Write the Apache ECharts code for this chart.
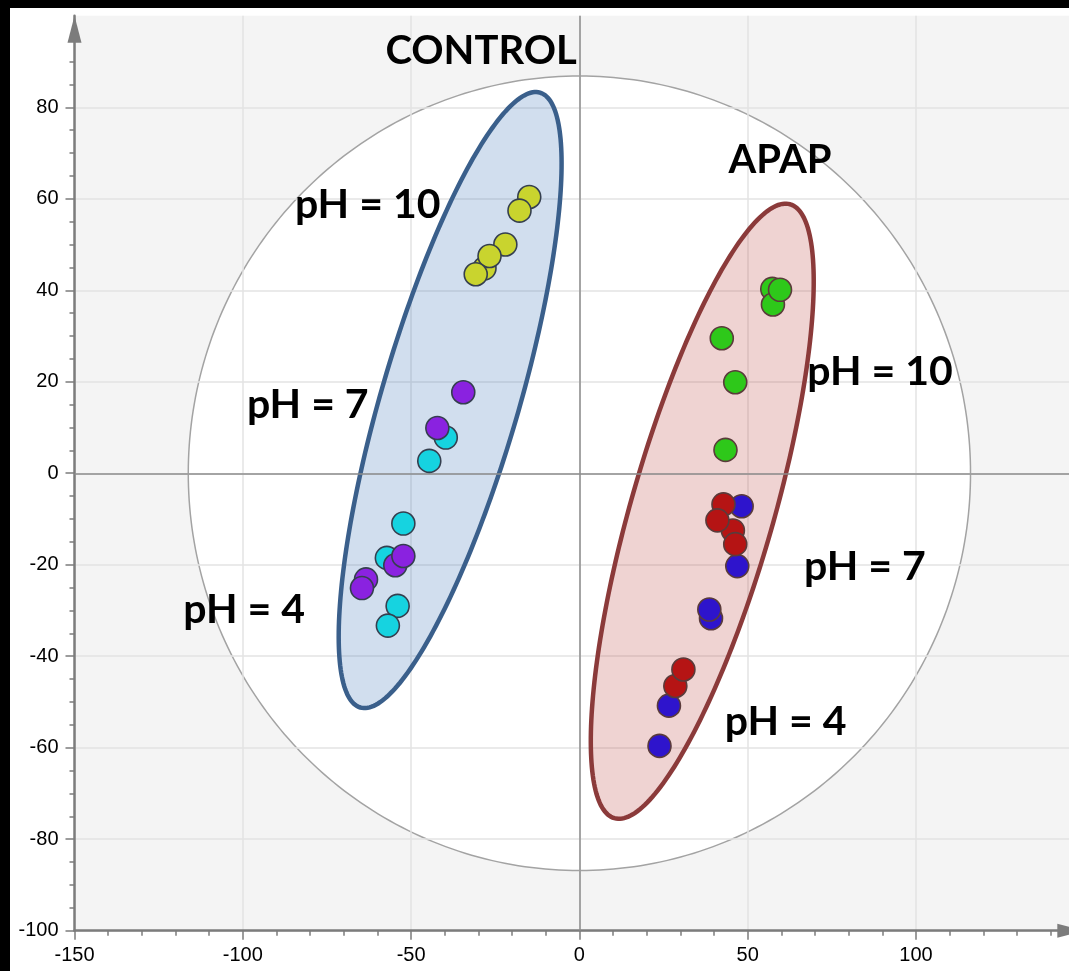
<!DOCTYPE html>
<html>
<head>
<meta charset="utf-8">
<script src="https://cdn.jsdelivr.net/npm/echarts@6/dist/echarts.min.js"></script>
<style>
  html, body { margin: 0; padding: 0; background: #000; overflow: hidden; width: 1069px; height: 971px; }
  #chart { position: absolute; left: 10px; top: 8px; width: 1100px; height: 963px; }
</style>
</head>
<body>
<div id="chart"></div>
<script>
// PCA scores [t1, t2] for each sample group
const controlPH10 = [[-28.2, 44.8], [-14.9, 60.4], [-17.8, 57.4], [-22.0, 50.0], [-26.7, 47.5], [-30.8, 43.5]];
const controlCyan = [[-39.7, 7.8], [-44.6, 2.7], [-52.3, -11.0], [-57.2, -18.5], [-54.0, -29.0], [-56.9, -33.3]];
const controlPurple = [[-34.5, 17.7], [-42.2, 9.9], [-63.4, -23.2], [-64.6, -25.1], [-54.7, -20.1], [-52.3, -18.1]];
const apapPH10 = [[57.3, 40.3], [57.5, 36.9], [59.6, 40.1], [42.3, 29.5], [46.3, 19.9], [43.4, 5.1]];
const apapBlue = [[48.2, -7.2], [46.9, -20.3], [39.1, -31.7], [38.6, -29.8], [26.6, -50.8], [23.8, -59.6]];
const apapRed = [[42.8, -6.8], [45.6, -12.5], [41.0, -10.3], [46.3, -15.5], [28.5, -46.5], [30.9, -42.9]];

// Hotelling T2 ellipse radii (t1, t2)
const t2Radii = [116.2, 86.85];

// group regions: [centre t1, centre t2, tip t1, tip t2, half width in t1 units]
const controlRegion = [-38.4, 16.0, -11.7, 83.2, 20.4];
const apapRegion = [36.5, -8.3, 62.6, 58.8, 21.2];

// annotations: [text, t1, t2]
const annotations = [
  ['CONTROL', -29.2, 92.3],
  ['APAP', 59.6, 68.5],
  ['pH = 10', -62.9, 58.6],
  ['pH = 7', -80.7, 14.9],
  ['pH = 4', -99.6, -29.9],
  ['pH = 10', 89.3, 22.1],
  ['pH = 7', 84.8, -20.5],
  ['pH = 4', 61.3, -54.4]
];

const xTicks = [-150, -100, -50, 0, 50, 100];
const yTicks = [-100, -80, -60, -40, -20, 0, 20, 40, 60, 80];

const axisGrey = '#7c7c7c';

function ellipsePoints(c, u, a, b, n) {
  const v = [-u[1], u[0]];
  const pts = [];
  for (let k = 0; k < n; k++) {
    const ang = (2 * Math.PI * k) / n;
    const ca = Math.cos(ang), sa = Math.sin(ang);
    pts.push([c[0] + a * ca * u[0] + b * sa * v[0], c[1] + a * ca * u[1] + b * sa * v[1]]);
  }
  return pts;
}

const regionStyles = [
  { fill: 'rgba(79,129,189,0.26)', stroke: '#3a5f8b' },
  { fill: 'rgba(192,80,77,0.25)', stroke: '#8b3a3a' }
];

function renderRegion(params, api) {
  const c = api.coord([api.value(0), api.value(1)]);
  const t = api.coord([api.value(2), api.value(3)]);
  const halfW = api.size([api.value(4), 0])[0];
  const dx = t[0] - c[0], dy = t[1] - c[1];
  const a = Math.hypot(dx, dy);
  const st = regionStyles[params.dataIndex];
  return {
    type: 'polygon',
    shape: { points: ellipsePoints(c, [dx / a, dy / a], a, halfW, 240) },
    style: { fill: st.fill, stroke: st.stroke, lineWidth: 4.5 }
  };
}

function renderT2(params, api) {
  const c = api.coord([0, 0]);
  const r = api.size([api.value(0), api.value(1)]);
  const pts = [];
  for (let k = 0; k < 360; k++) {
    const ang = (2 * Math.PI * k) / 360;
    pts.push([c[0] + r[0] * Math.cos(ang), c[1] + r[1] * Math.sin(ang)]);
  }
  return {
    type: 'polygon',
    shape: { points: pts },
    style: { fill: '#ffffff', stroke: '#a3a3a3', lineWidth: 1.5 }
  };
}

function renderText(params, api) {
  const p = api.coord([api.value(1), api.value(2)]);
  const text = annotations[params.dataIndex][0];
  const size = text.indexOf('pH') === 0 ? 41 : 40;
  return {
    type: 'text',
    x: p[0],
    y: p[1],
    style: {
      text: text,
      font: 'bold ' + size + 'px Lato',
      fill: '#000',
      align: 'center',
      verticalAlign: 'middle'
    }
  };
}

function scatter(data, color, border) {
  return {
    type: 'scatter',
    z: 5,
    data: data,
    symbolSize: 23,
    itemStyle: { color: color, borderColor: border, borderWidth: 1.6, opacity: 1 },
    emphasis: { disabled: true },
    silent: true
  };
}

// arrow head sits with its tip on the axis end
const arrowLine = {
  onZero: false,
  lineStyle: { color: axisGrey, width: 2.5 },
  symbol: ['none', 'triangle'], symbolSize: [14, 27], symbolOffset: [0, -13.5]
};

const chart = echarts.init(document.getElementById('chart'), null, { renderer: 'canvas' });
chart.setOption({
  backgroundColor: '#ffffff',
  animation: false,
  grid: {
    left: 64.5, top: 7.8, width: 1009.8, height: 914.9,
    show: true, backgroundColor: '#f4f4f4', borderWidth: 0,
    containLabel: false, outerBoundsMode: 'none'
  },
  xAxis: {
    type: 'value', min: -150, max: 150, interval: 50, z: 2,
    axisLine: arrowLine,
    axisTick: { show: true, length: 9, lineStyle: { color: axisGrey, width: 1.5 }, customValues: xTicks },
    minorTick: { show: true, splitNumber: 5, length: 5, lineStyle: { color: axisGrey, width: 1.5 } },
    axisLabel: { customValues: xTicks, color: '#000', fontSize: 20, fontFamily: 'Liberation Sans', margin: 15 },
    splitLine: { show: true, lineStyle: { color: '#e3e3e3', width: 1.5 } }
  },
  yAxis: {
    type: 'value', min: -100, max: 100, interval: 20, z: 2,
    axisLine: arrowLine,
    axisTick: { show: true, length: 9, lineStyle: { color: axisGrey, width: 1.5 }, customValues: yTicks },
    minorTick: { show: true, splitNumber: 4, length: 5, lineStyle: { color: axisGrey, width: 1.5 } },
    axisLabel: { customValues: yTicks, color: '#000', fontSize: 20, fontFamily: 'Liberation Sans', margin: 16 },
    splitLine: { show: true, lineStyle: { color: '#e3e3e3', width: 1.5 } }
  },
  series: [
    { type: 'custom', z: 1, silent: true, clip: false, renderItem: renderT2, data: [t2Radii] },
    {
      type: 'line', z: 3, data: [], silent: true,
      markLine: {
        silent: true, symbol: 'none', animation: false,
        label: { show: false },
        lineStyle: { color: '#8c8c8c', width: 1.5, type: 'solid' },
        emphasis: { disabled: true },
        data: [{ xAxis: 0 }, { yAxis: 0 }]
      }
    },
    { type: 'custom', z: 4, silent: true, clip: false, renderItem: renderRegion, data: [controlRegion, apapRegion] },
    scatter(controlPH10, '#c9d42e', '#353f4f'),
    scatter(controlCyan, '#16d3e0', '#353f4f'),
    scatter(controlPurple, '#8a22e0', '#353f4f'),
    scatter(apapPH10, '#2ec81a', '#5a3b3b'),
    scatter(apapBlue, '#2e14cc', '#5a3b3b'),
    scatter(apapRed, '#b51414', '#5a3b3b'),
    { type: 'custom', z: 6, silent: true, clip: false, renderItem: renderText, data: annotations }
  ]
});
</script>
</body>
</html>
